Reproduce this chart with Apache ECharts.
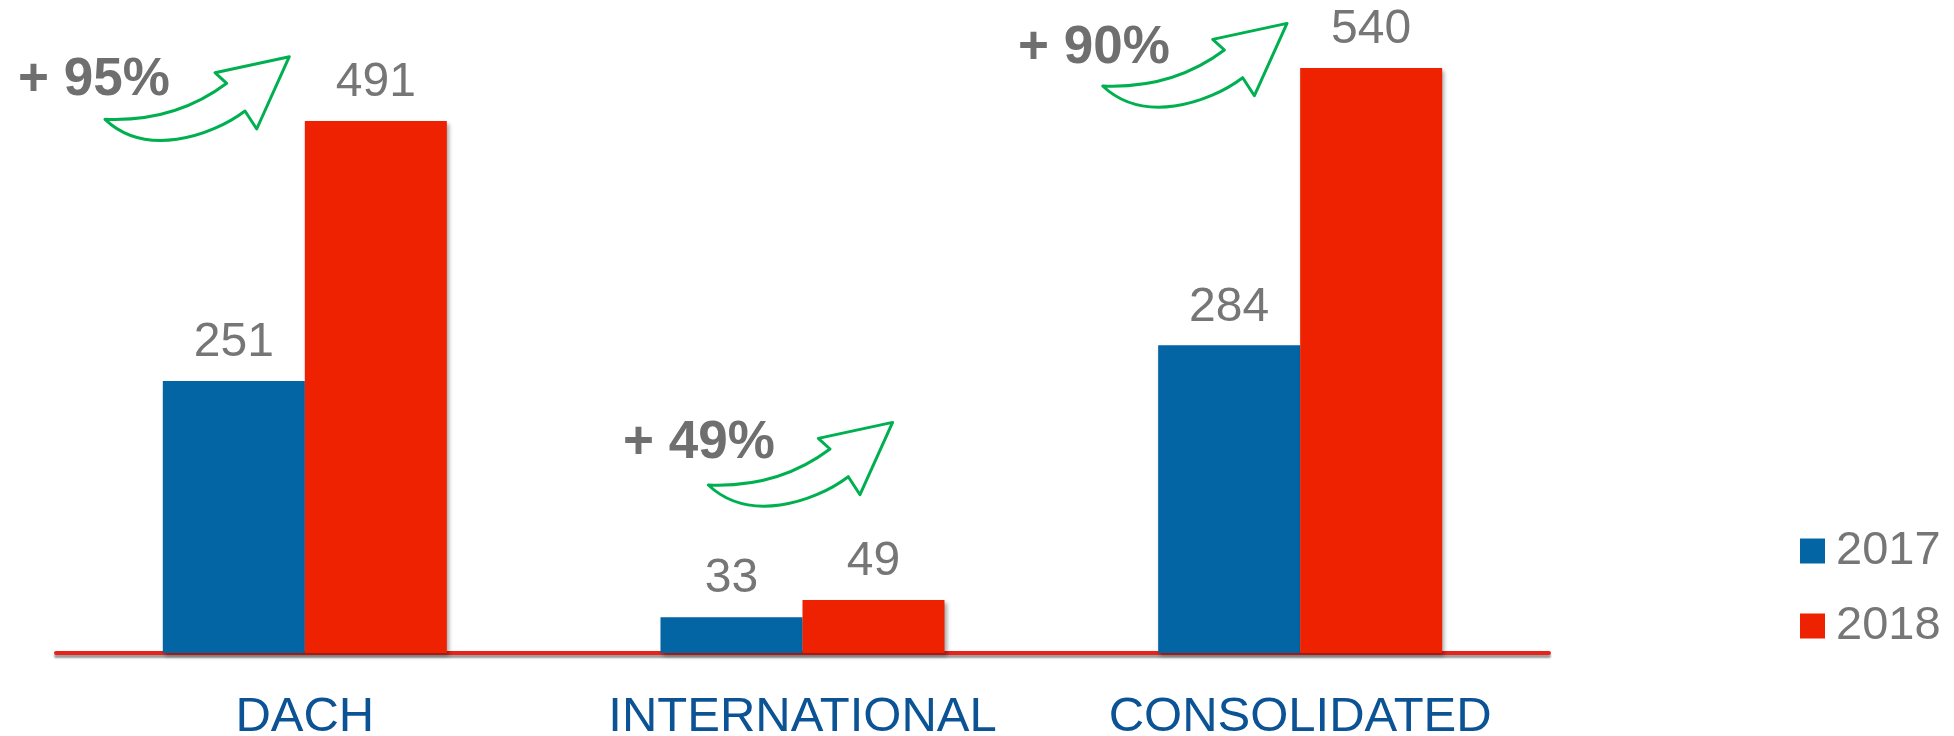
<!DOCTYPE html>
<html>
<head>
<meta charset="utf-8">
<script src="https://cdn.jsdelivr.net/npm/echarts@6/dist/echarts.min.js"></script>
<style>
html,body{margin:0;padding:0;background:#fff;}
#main{width:1954px;height:736px;}
</style>
</head>
<body>
<div id="main"></div>
<script>
const categories = ['DACH', 'INTERNATIONAL', 'CONSOLIDATED'];
const seriesNames = ['2017', '2018'];
const values2017 = [251, 33, 284];
const values2018 = [491, 49, 540];
const growthLabels = ['+ 95%', '+ 49%', '+ 90%'];

const BLUE = '#0465a4';
const RED = '#ee2200';
const GREEN = '#00b050';
const GRAY = '#767676';
const FONT = '"Liberation Sans", Arial, Helvetica, sans-serif';

// curved growth arrow outline, relative to its tail point
const GrowthArrow = echarts.graphic.extendShape({
  shape: {},
  buildPath: function (ctx) {
    ctx.moveTo(0, 0);
    ctx.quadraticCurveTo(70, 3, 121.7, -36);
    ctx.lineTo(110, -46.6);
    ctx.lineTo(184.3, -62.6);
    ctx.lineTo(151.7, 9.7);
    ctx.lineTo(140, -8.3);
    ctx.bezierCurveTo(105, 18, 40, 38, 0, 0);
    ctx.closePath();
  }
});
echarts.graphic.registerShape('growthArrow', GrowthArrow);

const annotations = [
  {text: growthLabels[0], tx: 18, ty: 80, ax: 105, ay: 119.3},
  {text: growthLabels[1], tx: 623, ty: 443, ax: 708.3, ay: 485},
  {text: growthLabels[2], tx: 1018, ty: 48, ax: 1102.7, ay: 86}
];

const graphics = [];
annotations.forEach(a => {
  graphics.push({
    type: 'growthArrow', x: a.ax, y: a.ay, z: 10,
    shape: {},
    style: {fill: 'none', stroke: GREEN, lineWidth: 3, lineJoin: 'round'}
  });
  graphics.push({
    type: 'text', x: a.tx, y: a.ty, z: 10,
    style: {text: a.text, fill: '#6f6f6f', font: 'bold 53px ' + FONT, verticalAlign: 'middle', align: 'left'}
  });
});

const barShadow = {shadowColor: 'rgba(0,0,0,0.35)', shadowBlur: 4, shadowOffsetX: 2, shadowOffsetY: 3};
const labelCfg = {show: true, position: 'top', distance: 14, color: GRAY, fontSize: 48, fontFamily: FONT};

const chart = echarts.init(document.getElementById('main'), null, {renderer: 'canvas'});
chart.setOption({
  animation: false,
  backgroundColor: '#fff',
  textStyle: {fontFamily: FONT},
  grid: {left: 56, right: 405, top: 3, bottom: 83, containLabel: false, outerBoundsMode: 'none'},
  legend: {
    orient: 'vertical', left: 1795, top: 521,
    itemWidth: 25, itemHeight: 25, itemGap: 25, icon: 'rect',
    textStyle: {fontSize: 47, color: GRAY, lineHeight: 50, fontFamily: FONT, padding: [0, 0, 0, 6]},
    data: seriesNames
  },
  xAxis: {
    type: 'category', data: categories,
    axisTick: {show: false},
    axisLine: {lineStyle: {color: '#e8231a', width: 4, cap: 'round', shadowColor: 'rgba(0,0,0,0.4)', shadowBlur: 2, shadowOffsetY: 3}},
    axisLabel: {color: '#0b5394', fontSize: 49, margin: 40, interval: 0, hideOverlap: false, fontFamily: FONT}
  },
  yAxis: {type: 'value', min: 0, max: 600, show: false, splitLine: {show: false}},
  series: [
    {name: seriesNames[0], type: 'bar', data: values2017, barWidth: 142, barGap: '0%',
     itemStyle: Object.assign({color: BLUE}, barShadow), label: labelCfg},
    {name: seriesNames[1], type: 'bar', data: values2018, barWidth: 142, barGap: '0%',
     itemStyle: Object.assign({color: RED}, barShadow), label: labelCfg}
  ],
  graphic: graphics
});
</script>
</body>
</html>
